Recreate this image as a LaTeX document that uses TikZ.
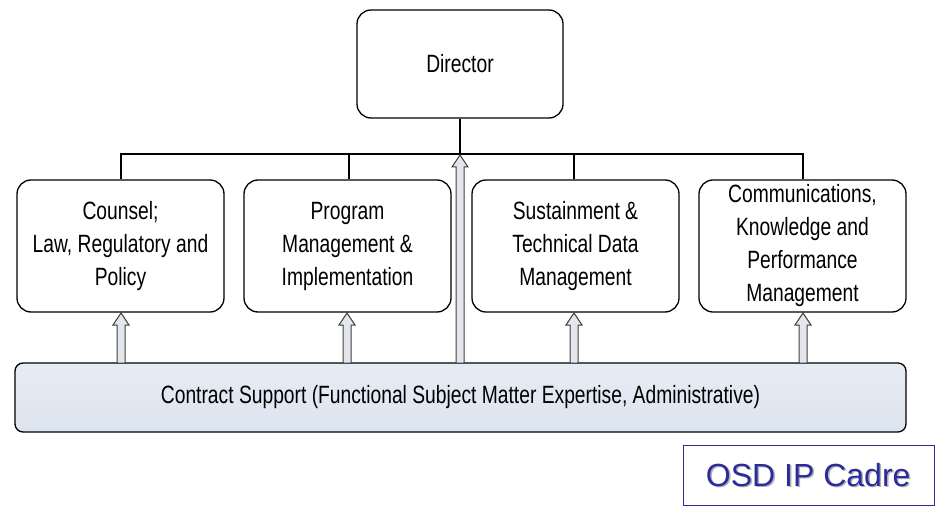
\documentclass[tikz,border=0pt]{standalone}
\usepackage{fontspec}
\setmainfont[FakeStretch=0.77]{Liberation Sans}
\newfontfamily\widefont{Liberation Sans}
\usetikzlibrary{calc,shadows}
\definecolor{barfill}{HTML}{DCE4EF}
\definecolor{arrfill}{HTML}{E4E6EE}
\definecolor{cadre}{HTML}{2B2B9C}
\tikzset{
  x=1pt, y=-1pt,
  unitbox/.style={draw=black, line width=1.3pt, rounded corners=14pt, fill=white,
    align=center, font=\fontsize{25}{33}\selectfont, inner sep=0pt},
  tree/.style={line width=2.8pt},
  blockarr/.style={draw=black!75, line width=1pt, fill=arrfill, line join=miter},
}
\newcommand\blockarrow[2]{% from #1 (bottom) to #2 (tip)
  \path[blockarr] ($(#1)+(-4,0)$) -- ($(#2)+(-4,12)$) -- ($(#2)+(-8,12)$) -- (#2)
    -- ($(#2)+(8,12)$) -- ($(#2)+(4,12)$) -- ($(#1)+(4,0)$) -- cycle;}
\begin{document}
\begin{tikzpicture}
\useasboundingbox (0,0) rectangle (938,508);
% Director
\node[unitbox, minimum width=206pt, minimum height=108pt] (dir) at (460,64) {Director};
% units
\node[unitbox, minimum width=207pt, minimum height=132pt] (u1) at (120.5,246) {Counsel;\\Law, Regulatory and\\Policy};
\node[unitbox, minimum width=207pt, minimum height=132pt] (u2) at (347.5,246) {Program\\Management \&\\Implementation};
\node[unitbox, minimum width=207pt, minimum height=132pt] (u3) at (575.5,246) {Sustainment \&\\Technical Data\\Management};
\node[unitbox, minimum width=207pt, minimum height=132pt] (u4) at (802.5,246) {Communications,\\Knowledge and\\Performance\\Management};
% tree
\coordinate (j0) at (460,154);
\coordinate (j1) at (121,154);
\coordinate (j2) at (349,154);
\coordinate (j3) at (574,154);
\coordinate (j4) at (803,154);
\draw[tree] (dir.south) -- (j0);
\draw[tree] ($(j1)+(-1.4,0)$) -- ($(j4)+(1.4,0)$);
\draw[tree] (j1) -- (j1 |- u1.north);
\draw[tree] (j2) -- (j2 |- u2.north);
\draw[tree] (j3) -- (j3 |- u3.north);
\draw[tree] (j4) -- (j4 |- u4.north);
% contract bar
\node[draw=black, line width=1.3pt, rounded corners=8pt, top color=barfill!70, bottom color=barfill,
  minimum width=891pt, minimum height=69pt, font=\fontsize{25}{28}\selectfont, inner sep=0pt]
  (cs) at (460.5,397.5) {Contract Support (Functional Subject Matter Expertise, Administrative)};
% block arrows
\coordinate (a1) at (121,363); \coordinate (t1) at (121,313);
\coordinate (a2) at (347,363); \coordinate (t2) at (347,313);
\coordinate (a3) at (574,363); \coordinate (t3) at (574,313);
\coordinate (a4) at (803,363); \coordinate (t4) at (803,313);
\coordinate (a0) at (460,363); \coordinate (t0) at (460,155);
\blockarrow{a1}{t1}
\blockarrow{a2}{t2}
\blockarrow{a3}{t3}
\blockarrow{a4}{t4}
\blockarrow{a0}{t0}
% cadre
\node[draw=cadre, line width=1.2pt, fill=white, minimum width=250pt, minimum height=59pt,
  font=\widefont\fontsize{32}{36}\selectfont, text=cadre, inner sep=0pt] (cadre) at (809,475.5)
  {\tikz[baseline]{\node[text=black!30, inner sep=0pt, anchor=base] at (1.5pt,-1.5pt){OSD IP Cadre};
   \node[text=cadre, inner sep=0pt, anchor=base] at (0,0){OSD IP Cadre};}};
\end{tikzpicture}
\end{document}
